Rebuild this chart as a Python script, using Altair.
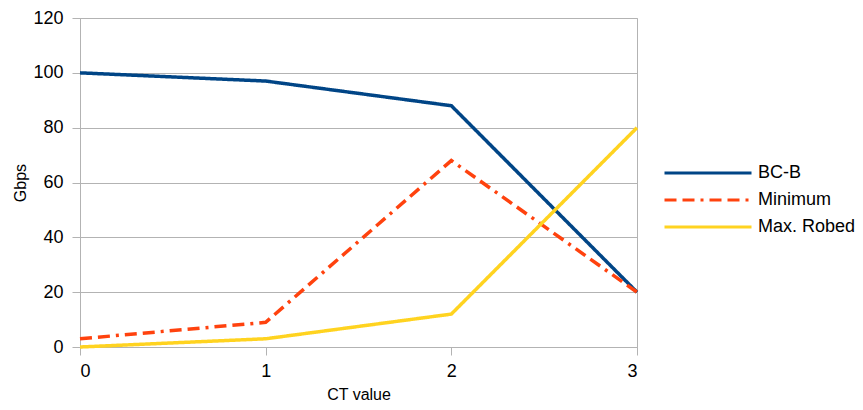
import altair as alt
import pandas as pd

ct_values = [0, 1, 2, 3]
series_names = ["BC-B", "Minimum", "Max. Robed"]
bcb = [100, 97, 88, 20]
minimum = [3, 9, 68, 20]
max_robed = [0, 3, 12, 80]

rows = []
for name, vals in zip(series_names, [bcb, minimum, max_robed]):
    for x, v in zip(ct_values, vals):
        rows.append({"ct": x, "gbps": v, "series": name})
df = pd.DataFrame(rows)

colors = ["#004586", "#ff420e", "#ffd320"]
dashes = [[1, 0], [12, 6, 12, 6, 3, 6], [1, 0]]

chart = alt.Chart(df).mark_line(strokeWidth=3.5, strokeCap="butt", strokeJoin="miter").encode(
    x=alt.X("ct:Q", title="CT value",
            scale=alt.Scale(domain=[0, 3], nice=False),
            axis=alt.Axis(values=ct_values, format="d", grid=False, tickSize=8,
                          labelPadding=7, titlePadding=6)),
    y=alt.Y("gbps:Q", title="Gbps",
            scale=alt.Scale(domain=[0, 120], nice=False),
            axis=alt.Axis(values=[0, 20, 40, 60, 80, 100, 120], grid=True, tickSize=8,
                          labelPadding=9, titlePadding=4)),
    color=alt.Color("series:N", title=None,
                    scale=alt.Scale(domain=series_names, range=colors),
                    legend=alt.Legend(orient="none", legendX=583, legendY=139,
                                      symbolType="M-1,0H5", symbolSize=841,
                                      symbolStrokeWidth=3, labelOffset=63,
                                      rowPadding=2, padding=0, labelFontSize=18,
                                      labelFont="Liberation Sans", labelColor="#000")),
    strokeDash=alt.StrokeDash("series:N", title=None,
                              scale=alt.Scale(domain=series_names, range=dashes)),
    order=alt.Order("ct:Q"),
).properties(
    width=557, height=329,
    autosize=alt.AutoSizeParams(type="none"),
    padding={"left": 72, "top": 10, "right": 218, "bottom": 55},
).configure_view(
    stroke="#b3b3b3", strokeWidth=1
).configure_axis(
    domainColor="#b3b3b3", gridColor="#b3b3b3", tickColor="#b3b3b3",
    labelFont="Liberation Sans", titleFont="Liberation Sans",
    labelFontSize=18, titleFontSize=16, labelColor="#000", titleColor="#000",
    titleFontWeight="normal", domainWidth=1, gridWidth=1, tickWidth=1,
)

chart.save("out.html", embed_options={"renderer": "svg", "actions": False})
